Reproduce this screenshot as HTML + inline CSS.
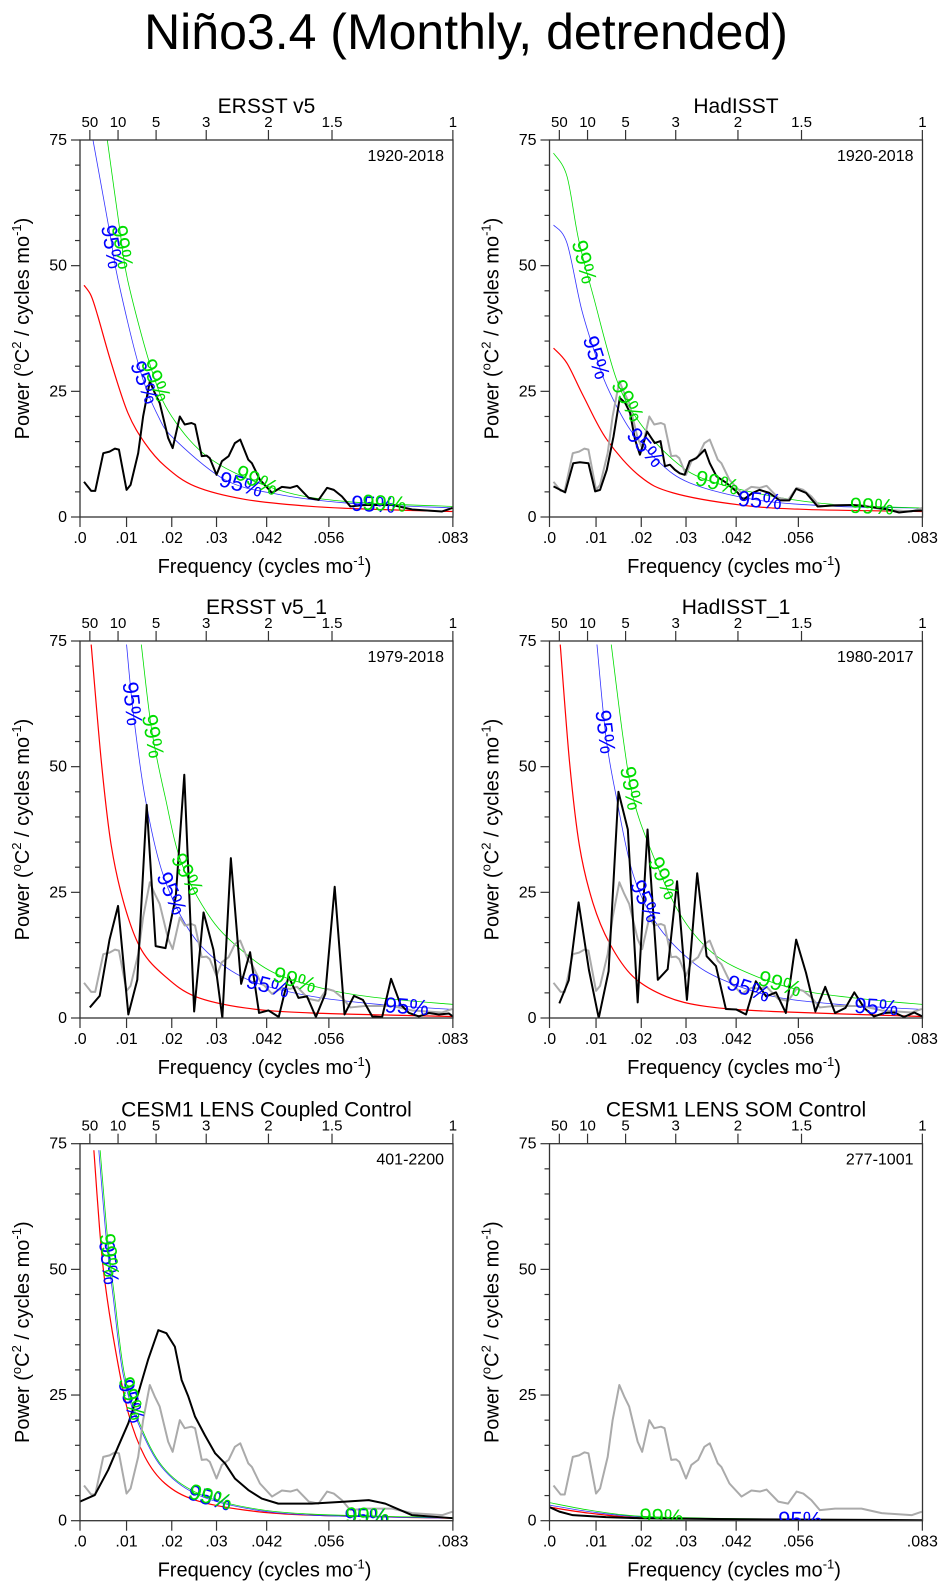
<!DOCTYPE html>
<html><head><meta charset="utf-8"><title>Niño3.4 spectra</title>
<style>
html,body{margin:0;padding:0;background:#fff;}
svg{display:block;font-family:"Liberation Sans",Arial,sans-serif;}
</style></head>
<body>
<svg id="fig" width="946" height="1589" viewBox="0 0 946 1589" xmlns="http://www.w3.org/2000/svg">
<text x="466" y="49" font-size="50" text-anchor="middle" fill="#000">Niño3.4 (Monthly, detrended)</text>
</svg>
<script>
// ---- data (frequency in cycles/mo, power in degC^2/(cycles/mo)) ----
const ersstF = [.0009,.0025,.0034,.0052,.0066,.0078,.0087,.0104,.0113,.0130,.0141,.0156,.0167,.0178,.0197,.0207,.0223,.0234,.0249,.0257,.0272,.0283,.0290,.0305,.0317,.0332,.0346,.0358,.0376,.0384,.0402,.0429,.0451,.0470,.0485,.0511,.0533,.0552,.0567,.0585,.0604,.0638,.0668,.0697,.0712,.0742,.0809,.0832];
const ersstV = [7.0,5.2,5.2,12.7,13.0,13.6,13.4,5.4,6.4,12.7,20.0,27.0,24.7,22.7,15.7,13.7,20.0,18.4,18.7,18.4,12.1,12.2,11.7,8.4,11.1,12.1,14.7,15.4,11.4,10.7,7.4,4.8,6.0,5.8,6.2,3.8,3.4,5.8,5.4,4.1,2.1,2.4,2.4,2.4,2.1,1.5,1.1,1.8];
const p1RedF = [.0009,.0025,.004,.007,.0107,.0145,.019,.0257,.0369,.0518,.0668,.0832];
const p1RedV = [46.1,44.0,39.9,30.6,20.7,14.7,10.1,6.1,3.5,2.1,1.5,1.1];
const p1BlueF = [.0029,.0066,.0085,.0134,.0175,.0212,.0324,.0443,.0593,.0832];
const p1BlueV = [75,56.8,47.2,29.3,20.0,15.4,7.4,4.5,2.8,1.8];
const p1GreenF = [.0061,.0089,.0107,.0160,.0205,.0294,.0443,.0593,.0832];
const p1GreenV = [75,57.1,46.9,29.3,20.0,11.4,5.4,3.1,2.1];

const hadF = [.0009,.0035,.0053,.0068,.0087,.0102,.0113,.0128,.0143,.0157,.0169,.0180,.0191,.0202,.0218,.0235,.0248,.0258,.0269,.0280,.0291,.0302,.0313,.0328,.0347,.0358,.0373,.0395,.0421,.0432,.0454,.0469,.0491,.0514,.0536,.0551,.0573,.0599,.0633,.0677,.0707,.0751,.0781,.0811,.0833];
const hadV = [6.1,4.9,10.7,10.9,10.7,5.1,5.4,9.4,16.0,23.7,22.7,20.7,15.4,12.4,17.0,14.7,15.1,10.1,10.4,9.4,8.7,8.4,11.1,11.7,13.4,10.7,8.1,6.8,4.8,3.4,4.8,5.4,4.8,3.3,3.3,5.6,4.8,2.1,2.3,2.4,2.1,1.6,0.9,1.2,1.3];
const p2RedF = [.0009,.0039,.0076,.0128,.0202,.0276,.0425,.0573,.0833];
const p2RedV = [33.6,30.6,24.0,15.4,8.1,4.8,2.4,1.5,1.1];
const p2BlueF = [.0009,.0039,.0072,.0109,.0135,.018,.0239,.0313,.0462,.0647,.0833];
const p2BlueV = [58.1,54.5,41.2,30.6,24.7,17.4,11.4,6.8,3.4,2.1,1.8];
const p2GreenF = [.0009,.0039,.0065,.0098,.015,.0202,.0276,.035,.0499,.0647,.0833];
const p2GreenV = [72.4,67.8,55.2,43.9,27.3,18.7,11.4,7.4,4.1,2.4,1.8];

const ersst1F = [.0022,.0044,.0066,.0085,.0108,.0128,.0149,.0169,.0191,.0214,.0233,.0255,.0276,.0298,.0318,.0337,.0360,.0380,.0400,.0421,.0444,.0466,.0488,.0507,.0527,.0548,.0569,.0591,.0612,.0632,.0653,.0675,.0695,.0716,.0735,.0757,.0780,.0802,.0824,.0833];
const ersst1V = [2.1,4.4,15.6,22.3,0.7,7.6,42.4,14.3,13.9,24.2,48.4,1.3,21.0,13.6,0,31.8,6.8,13.1,1.0,1.5,0.2,8.3,4.0,4.3,0.2,4.8,26.1,0.7,4.4,3.6,0.3,0.2,7.8,2.7,1.0,0.3,1.0,0.7,0.9,0.3];
const p3RedF = [.0025,.0048,.007,.01,.0137,.019,.0257,.0369,.0518,.0833];
const p3RedV = [74.3,50.7,34.2,22.2,13.6,8.3,4.3,2.0,1.0,0.3];
const p3BlueF = [.0104,.0119,.0145,.0182,.0234,.0294,.0384,.0518,.0668,.0833];
const p3BlueV = [74.3,60.7,44.1,29.5,18.9,12.3,7.3,4.3,2.7,1.7];
const p3GreenF = [.0137,.016,.019,.0227,.0294,.0369,.0443,.0556,.0668,.0833];
const p3GreenV = [74.3,57.4,44.1,30.8,19.6,12.9,8.6,5.6,4.0,2.7];

const had1F = [.0022,.0043,.0065,.0088,.0110,.0132,.0154,.0175,.0197,.0219,.0242,.0264,.0285,.0307,.0330,.0351,.0372,.0394,.0417,.0439,.0461,.0484,.0506,.0528,.0551,.0573,.0594,.0616,.0638,.0661,.0681,.0703,.0725,.0748,.0770,.0792,.0815,.0833];
const had1V = [2.9,7.5,23.0,9.6,0,9.3,45.0,37.5,3.1,37.5,7.6,9.7,27.2,3.6,28.8,12.3,10.3,1.8,1.7,0.7,7.3,4.3,5.1,1.0,15.6,9.0,1.3,6.2,1.0,2.0,5.1,2.0,0.3,1.0,1.1,0.2,1.1,0.3];
const p4RedF = [.0024,.0045,.0067,.0097,.0134,.0186,.026,.035,.0499,.0833];
const p4RedV = [74.3,50.7,34.2,22.9,14.9,8.3,4.3,2.3,1.3,0.3];
const p4BlueF = [.0106,.0126,.0149,.0186,.0238,.0313,.0387,.0499,.0647,.0833];
const p4BlueV = [74.3,56.0,44.1,28.8,18.9,11.6,7.6,4.3,2.7,1.7];
const p4GreenF = [.0138,.0164,.0186,.0223,.029,.0365,.0461,.0573,.0722,.0833];
const p4GreenV = [74.3,56.0,44.1,34.2,20.9,12.9,8.3,5.3,3.6,2.7];

const cplF = [0,.0033,.0063,.0085,.0108,.013,.0152,.0175,.0193,.0212,.0227,.0242,.0257,.0279,.0302,.0324,.0346,.0376,.0406,.0443,.0518,.0593,.0645,.0682,.0742,.0833];
const cplV = [3.8,5.1,10.1,14.7,19.4,25.3,32.0,37.9,37.3,34.6,28.0,24.7,20.7,17.0,13.4,11.4,8.4,6.1,4.4,3.4,3.4,3.8,4.1,3.4,1.1,0.5];
const p5RedF = [.0031,.0044,.0055,.0078,.0108,.0145,.019,.0257,.0369,.0518,.0833];
const p5RedV = [73.7,57.8,47.9,34.6,21.4,12.7,7.4,4.1,2.1,1.1,0.5];
const p5BlueF = [.0042,.0059,.0074,.0096,.013,.0182,.0257,.0369,.0518,.0833];
const p5BlueV = [73.7,55.8,44.6,29.3,19.4,10.7,5.4,2.5,1.1,0.5];
const p5GreenF = [.0045,.0062,.0077,.0099,.0133,.0185,.026,.037,.052,.0833];
const p5GreenV = [73.7,55.8,44.6,29.3,19.4,10.7,5.6,2.7,1.3,0.6];

const somF = [0,.0022,.0052,.0126,.0201,.0424,.0833];
const somV = [2.7,1.8,1.1,0.7,0.5,0.3,0.1];
const p6RedF = [0,.0089,.0201,.0424,.0833];
const p6RedV = [2.7,1.5,0.6,0.3,0.1];
const p6BlueF = [0,.0089,.0201,.0424,.0833];
const p6BlueV = [3.1,1.8,0.8,0.3,0.1];
const p6GreenF = [0,.0089,.0201,.0424,.0833];
const p6GreenV = [3.6,2.1,0.9,0.4,0.1];

const yTickLabels = ['0','25','50','75'];
const xTickLabels = ['.0','.01','.02','.03','.042','.056','.083'];
const xTickF = [0,.0104,.0205,.0305,.0417,.0556,.0833];
const topTickLabels = ['50','10','5','3','2','1.5','1'];
const topTickF = [.0022,.0085,.0170,.0282,.0421,.0563,.0833];

// ---- layout ----
const FMAX = 0.08333, VMAX = 75;
const colX = [80, 549.5], PW = 373, PH = 377;
const rowY = [140, 641, 1143.7];
const svg = document.getElementById('fig');
const NS = 'http://www.w3.org/2000/svg';
function mk(tag, attrs, parent){
  const e = document.createElementNS(NS, tag);
  for (const k in attrs) e.setAttribute(k, attrs[k]);
  (parent||svg).appendChild(e);
  return e;
}
function smoothPath(pts){
  let d = 'M' + pts[0][0].toFixed(2) + ',' + pts[0][1].toFixed(2);
  for (let i=0;i<pts.length-1;i++){
    const p0 = pts[i-1]||pts[i], p1 = pts[i], p2 = pts[i+1], p3 = pts[i+2]||p2;
    const c1 = [p1[0]+(p2[0]-p0[0])/6, p1[1]+(p2[1]-p0[1])/6];
    const c2 = [p2[0]-(p3[0]-p1[0])/6, p2[1]-(p3[1]-p1[1])/6];
    d += 'C'+c1[0].toFixed(2)+','+c1[1].toFixed(2)+' '+c2[0].toFixed(2)+','+c2[1].toFixed(2)+' '+p2[0].toFixed(2)+','+p2[1].toFixed(2);
  }
  return d;
}
function linePath(pts){ return pts.map((p,i)=>(i?'L':'M')+p[0].toFixed(2)+','+p[1].toFixed(2)).join(''); }
function interp(F,V,f){
  if (f<=F[0]) return V[0];
  for (let i=0;i<F.length-1;i++) if (f<=F[i+1]) return V[i]+(V[i+1]-V[i])*(f-F[i])/(F[i+1]-F[i]);
  return V[V.length-1];
}

const panels = [
  {title:'ERSST v5', years:'1920-2018', blk:[ersstF,ersstV], gray:false, red:[p1RedF,p1RedV], blue:[p1BlueF,p1BlueV], green:[p1GreenF,p1GreenV], l95:[.0072,.0145,.036,.0655], l99:[.0095,.017,.0395,.068]},
  {title:'HadISST', years:'1920-2018', blk:[hadF,hadV], gray:true, red:[p2RedF,p2RedV], blue:[p2BlueF,p2BlueV], green:[p2GreenF,p2GreenV], l95:[.0105,.0215,.047], l99:[.0078,.0175,.0375,.072]},
  {title:'ERSST v5_1', years:'1979-2018', blk:[ersst1F,ersst1V], gray:true, red:[p3RedF,p3RedV], blue:[p3BlueF,p3BlueV], green:[p3GreenF,p3GreenV], l95:[.0117,.0205,.042,.073], l99:[.0163,.024,.048]},
  {title:'HadISST_1', years:'1980-2017', blk:[had1F,had1V], gray:true, red:[p4RedF,p4RedV], blue:[p4BlueF,p4BlueV], green:[p4GreenF,p4GreenV], l95:[.0125,.0215,.0445,.073], l99:[.0183,.0255,.0515]},
  {title:'CESM1 LENS Coupled Control', years:'401-2200', blk:[cplF,cplV], gray:true, red:[p5RedF,p5RedV], blue:[p5BlueF,p5BlueV], green:[p5GreenF,p5GreenV], l95:[.0065,.0115,.029,.064], l99:[.0066,.0116,.0292,.0642]},
  {title:'CESM1 LENS SOM Control', years:'277-1001', blk:[somF,somV], gray:true, red:[p6RedF,p6RedV], blue:[p6BlueF,p6BlueV], green:[p6GreenF,p6GreenV], l95:[.056], l99:[.025]}
];

panels.forEach((P, idx) => {
  const x0 = colX[idx%2], y0 = rowY[Math.floor(idx/2)];
  const xs = f => x0 + f/FMAX*PW;
  const ys = v => y0 + PH - v/VMAX*PH;
  const g = mk('g', {});
  
  
  const cid = 'clip'+idx;
  const cp = mk('clipPath', {id:cid}, g);
  mk('rect', {x:x0, y:y0, width:PW, height:PH}, cp);
  const plot = mk('g', {'clip-path':'url(#'+cid+')'}, g);

  function series(arr, color, width, smooth, name){
    const pts = arr[0].map((f,i)=>[xs(f), ys(arr[1][i])]);
    const p = mk('path', {d: smooth?smoothPath(pts):linePath(pts), fill:'none', stroke:color, 'stroke-width':width, 'stroke-linejoin':'round'}, plot);
    
    
  }
  series(P.red, '#ff0000', 1.2, true, 'red-noise-curve');
  series(P.blue, '#3333ff', 0.8, true, 'confidence-95-curve');
  series(P.green, '#00dd00', 0.8, true, 'confidence-99-curve');
  if (P.gray) series([ersstF, ersstV], '#aaaaaa', 2, false, 'ersst-reference-line');
  series(P.blk, '#000000', 2, false, 'spectrum-line');

  function labels(list, arr, color, txt, name){
    list.forEach(f => {
      const v = interp(arr[0], arr[1], f);
      const df = 0.0006;
      const dx = xs(f+df)-xs(f-df), dy = ys(interp(arr[0],arr[1],f+df)) - ys(interp(arr[0],arr[1],f-df));
      const ang = Math.atan2(dy, dx)*180/Math.PI;
      const t = mk('text', {x:xs(f), y:ys(v), 'font-size':22, fill:color, 'text-anchor':'middle', 'dominant-baseline':'central', transform:'rotate('+ang.toFixed(1)+' '+xs(f).toFixed(1)+' '+ys(v).toFixed(1)+')'}, plot);
      t.textContent = txt;
      
      
    });
  }
  labels(P.l95, P.blue, '#0000ff', '95%', 'label-95');
  labels(P.l99, P.green, '#00dd00', '99%', 'label-99');

  const fr = mk('rect', {x:x0, y:y0, width:PW, height:PH, fill:'none', stroke:'#333', 'stroke-width':1.3}, g);
  
  

  for (let v=0; v<=75; v+=5){
    const major = v%25===0;
    mk('line', {x1:x0, x2:x0-(major?9:5), y1:ys(v), y2:ys(v), stroke:'#333', 'stroke-width':1.2}, g);
  }
  yTickLabels.forEach(s => {
    const t = mk('text', {x:x0-13, y:ys(+s)+5, 'font-size':16, 'text-anchor':'end', fill:'#000'}, g);
    t.textContent = s;
    
    
  });
  xTickF.forEach((f,i) => {
    mk('line', {x1:xs(f), x2:xs(f), y1:y0+PH, y2:y0+PH+10, stroke:'#333', 'stroke-width':1.2}, g);
    const t = mk('text', {x:xs(f), y:y0+PH+26, 'font-size':16, 'text-anchor':'middle', fill:'#000'}, g);
    t.textContent = xTickLabels[i];
    
    
  });
  topTickF.forEach((f,i) => {
    mk('line', {x1:xs(f), x2:xs(f), y1:y0, y2:y0-10, stroke:'#333', 'stroke-width':1.2}, g);
    const t = mk('text', {x:xs(f), y:y0-13, 'font-size':15, 'text-anchor':'middle', fill:'#000'}, g);
    t.textContent = topTickLabels[i];
    
    
  });
  const tt = mk('text', {x:x0+PW/2, y:y0-27, 'font-size':21, 'text-anchor':'middle', fill:'#000'}, g);
  tt.textContent = P.title;
  
  
  const yr = mk('text', {x:x0+PW-9, y:y0+21, 'font-size':16, 'text-anchor':'end', fill:'#000'}, g);
  yr.textContent = P.years;
  
  
  const xt = mk('text', {x:x0+PW/2-2, y:y0+PH+56, 'font-size':20, 'text-anchor':'middle', fill:'#000'}, g);
  xt.innerHTML = 'Frequency (cycles mo<tspan dy="-8" font-size="13">-1</tspan><tspan dy="8">)</tspan>';
  
  
  const cx = x0-51, cy = y0+PH/2;
  const yt = mk('text', {x:cx, y:cy, 'font-size':20, 'text-anchor':'middle', fill:'#000', transform:'rotate(-90 '+cx+' '+cy+')'}, g);
  yt.innerHTML = 'Power (<tspan dy="-8" font-size="13">o</tspan><tspan dy="8">C</tspan><tspan dy="-8" font-size="13">2</tspan><tspan dy="8"> / cycles mo</tspan><tspan dy="-8" font-size="13">-1</tspan><tspan dy="8">)</tspan>';
  
  
});
</script>
</body></html>
